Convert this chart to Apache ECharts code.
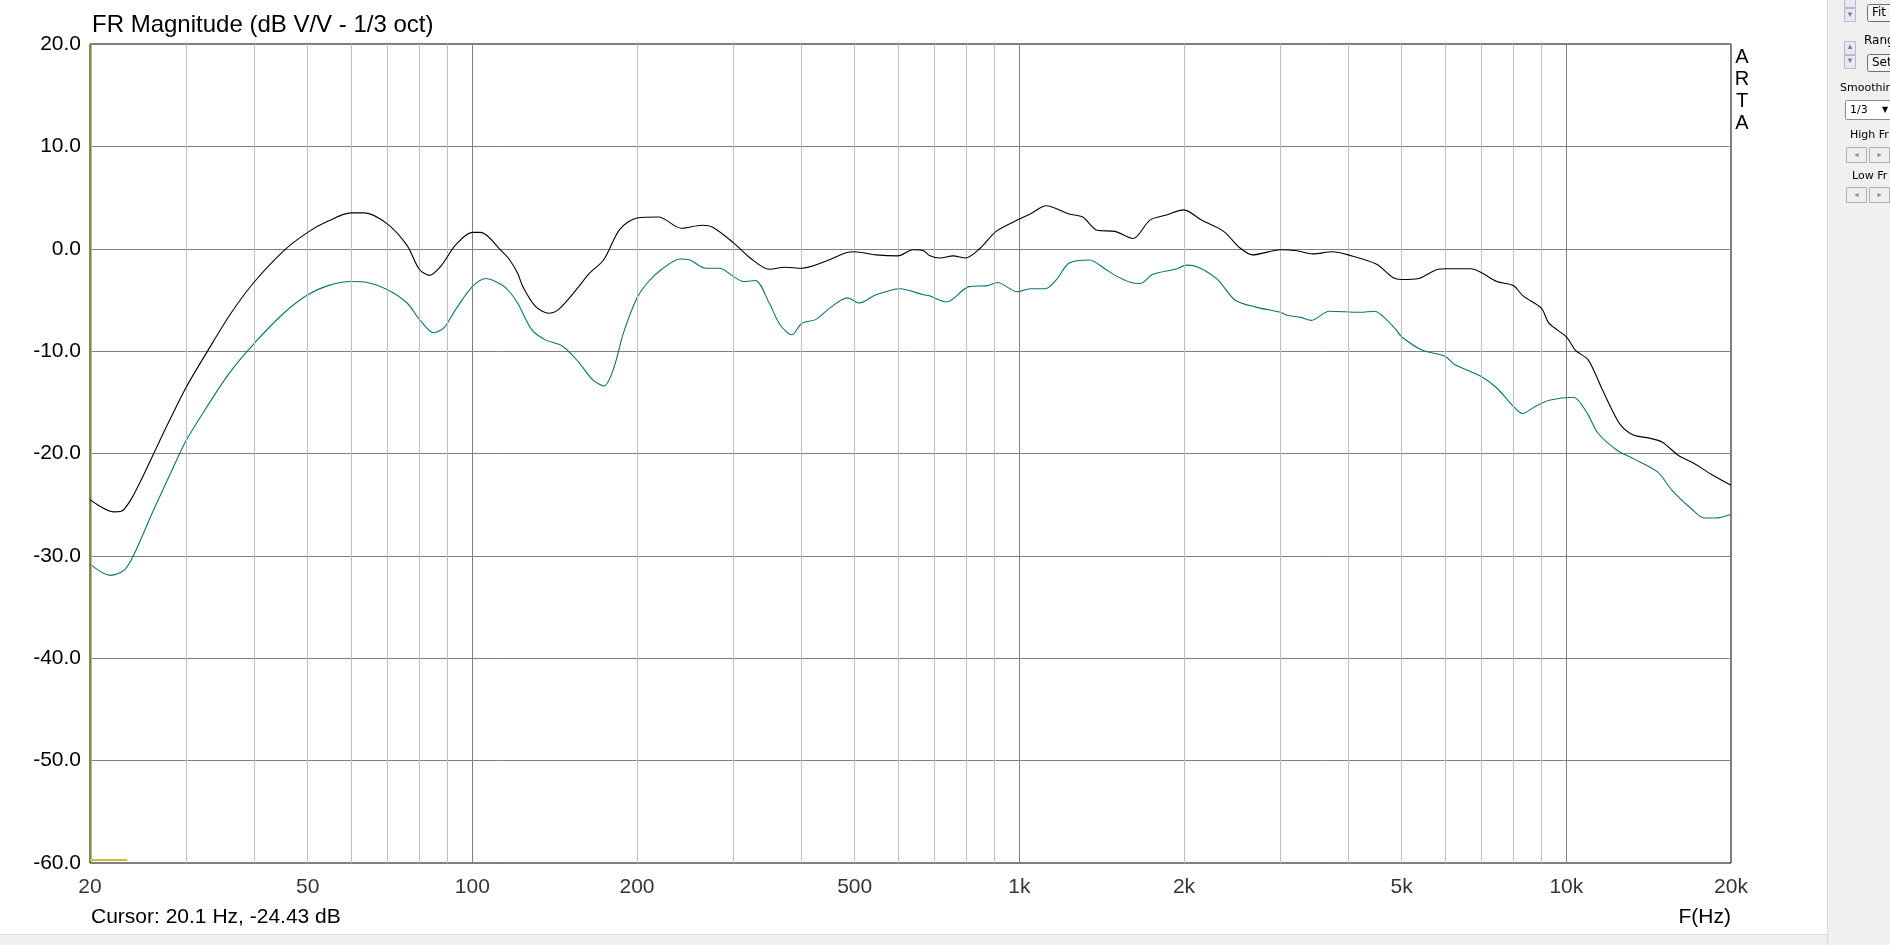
<!DOCTYPE html>
<html>
<head>
<meta charset="utf-8">
<script src="https://cdn.jsdelivr.net/npm/echarts@6/dist/echarts.min.js"></script>
<style>
html,body{margin:0;padding:0;background:#fff;}
#chart{width:1890px;height:945px;}
</style>
</head>
<body>
<div id="chart"></div>
<script>
// ---- data ----
const freqBlack = [20,22.1,22.8,23.7,24.8,26.1,27.7,30,32.8,36.2,40,45.2,50,54.5,60,63.5,70,76,80,83.5,87.6,93.3,100,103.6,113,116.9,121,123.7,130.3,137.7,144,156,163,174,186,200,219,241,263,275,300,322,349,373,400,444,482,500,547,600,639,668,685,715,757,797,850,907,1000,1047,1120,1233,1306,1389,1496,1613,1733,1858,1998,2153,2363,2529,2669,3000,3218,3441,3733,3992,4492,4816,5000,5372,5829,6000,6687,7000,7464,8000,8334,9000,9302,10000,10382,10962,11576,12058,12560,13263,14192,14986,16036,17160,18362,20000];
const dbBlack = [-24.5,-25.7,-25.65,-24.6,-22.6,-20.1,-17.2,-13.5,-10.0,-6.3,-3.2,-0.2,1.6,2.7,3.5,3.5,2.4,0.3,-2.0,-2.6,-1.7,0.4,1.6,1.6,-0.2,-1.05,-2.4,-3.7,-5.6,-6.3,-5.9,-3.8,-2.5,-1.05,1.9,3.0,3.1,2.0,2.3,2.1,0.6,-0.9,-2.0,-1.8,-1.9,-1.2,-0.4,-0.3,-0.6,-0.7,-0.1,-0.2,-0.65,-0.9,-0.7,-0.9,0.1,1.7,2.9,3.4,4.2,3.4,3.1,1.8,1.7,1.0,2.8,3.3,3.8,2.8,1.7,0.1,-0.6,-0.1,-0.2,-0.5,-0.3,-0.6,-1.5,-2.8,-3.0,-2.9,-2.0,-1.96,-1.96,-2.35,-3.2,-3.6,-4.6,-5.8,-7.3,-8.6,-9.9,-10.85,-13.5,-15.5,-17.2,-18.2,-18.5,-18.9,-20.2,-21.0,-22.0,-23.1];
const freqTeal = [20,21.8,23.1,24.1,26.1,29.0,30,32.4,35.9,40,45.2,50,54.5,60,64.3,70,76,80,85,88.8,93.3,100,106,113,116.9,121,128.4,136,146,156,166,174,181,189,200,210,222,240,250,267,283,300,313,329,349,365,384,400,425,450,485,510,547,605,668,685,736,809,876,912,992,1047,1116,1170,1233,1343,1438,1496,1600,1662,1755,1928,2027,2124,2302,2478,2705,3000,3087,3269,3418,3686,4198,4462,4622,4882,5000,5442,6000,6251,7000,7464,8000,8312,8775,9302,10297,10927,11419,12392,13263,14683,15605,16931,17872,18695,20000];
const dbTeal = [-30.8,-31.9,-31.4,-29.8,-25.6,-20.3,-18.7,-15.8,-12.2,-9.2,-6.3,-4.5,-3.6,-3.2,-3.3,-4.0,-5.3,-6.9,-8.2,-7.7,-5.9,-3.7,-2.9,-3.5,-4.2,-5.3,-7.9,-8.9,-9.5,-11.0,-12.8,-13.4,-11.8,-8.2,-4.8,-3.2,-2.0,-1.0,-1.1,-1.9,-1.9,-2.7,-3.2,-3.1,-5.3,-7.4,-8.4,-7.3,-6.9,-5.8,-4.8,-5.3,-4.5,-3.9,-4.5,-4.6,-5.2,-3.7,-3.6,-3.3,-4.2,-3.9,-3.9,-3.0,-1.4,-1.1,-2.0,-2.6,-3.3,-3.4,-2.5,-2.0,-1.6,-1.8,-3.0,-5.0,-5.7,-6.2,-6.5,-6.7,-7.0,-6.1,-6.2,-6.1,-6.6,-7.9,-8.6,-9.9,-10.5,-11.3,-12.5,-13.6,-15.4,-16.1,-15.4,-14.8,-14.5,-16.1,-18.0,-19.7,-20.5,-21.8,-23.6,-25.4,-26.3,-26.3,-25.95];
const gridMinorFreqs = [30,40,50,60,70,80,90,200,300,400,500,600,700,800,900,2000,3000,4000,5000,6000,7000,8000,9000];
const gridMajorFreqs = [100,1000,10000];
const xTickValues = [20,50,100,200,500,1000,2000,5000,10000,20000];
const xTickLabels = ['20','50','100','200','500','1k','2k','5k','10k','20k'];
const cursorFreq = 20.1;
const markerLevel = -59.65;
const markerEndFreq = 23.4;
const titleText = 'FR Magnitude (dB V/V - 1/3 oct)';
const cursorText = 'Cursor: 20.1 Hz, -24.43 dB';

// ---- chart ----
const FONT = '"Liberation Sans", Arial, sans-serif';
const UI = '"DejaVu Sans", Tahoma, sans-serif';
const zip = (a, b) => a.map((v, i) => [v, b[i]]);

const gridLines = [];
gridMinorFreqs.forEach(f => gridLines.push({xAxis: f, lineStyle: {color: '#c0c0c0', width: 1, type: 'solid'}}));
gridMajorFreqs.forEach(f => gridLines.push({xAxis: f, lineStyle: {color: '#808080', width: 1, type: 'solid'}}));

const chart = echarts.init(document.getElementById('chart'), null, {renderer: 'canvas'});

const spin = (y) => ({type:'rect', shape:{x:1844.5,y:y+0.5,width:11,height:13}, style:{fill:'#e8e8f0',stroke:'#b8b8c8'}});
const glyph = (x, y, t, size, col) => ({type:'text', style:{x:x,y:y,text:t,fill:col||'#7a7a9a',font:(size||9)+'px '+UI,align:'center',verticalAlign:'middle'}});
const label = (x, y, t, size) => ({type:'text', style:{x:x,y:y,text:t,fill:'#000',font:(size||12)+'px '+UI,verticalAlign:'middle'}});

// right-side UI panel (window chrome)
const panel = [
  {type:'rect', shape:{x:0,y:935,width:1827,height:10}, style:{fill:'#f0f0f0'}},
  {type:'line', shape:{x1:0,y1:934.5,x2:1827,y2:934.5}, style:{stroke:'#dadada',lineWidth:1}},
  {type:'rect', shape:{x:1827,y:0,width:63,height:945}, style:{fill:'#f0f0f0'}},
  {type:'line', shape:{x1:1827.5,y1:0,x2:1827.5,y2:945}, style:{stroke:'#dadada',lineWidth:1}},
  // spinners
  spin(-6), spin(8), spin(41), spin(55),
  glyph(1850, 15, '▾'), glyph(1850, 47, '▴'), glyph(1850, 61, '▾'),
  // buttons
  {type:'rect', shape:{x:1867.5,y:4.5,width:30,height:17,r:2}, style:{fill:'#f4f4f4',stroke:'#707070'}},
  label(1872, 13, 'Fit'),
  label(1864, 41, 'Rang'),
  {type:'rect', shape:{x:1867.5,y:54.5,width:30,height:17,r:2}, style:{fill:'#f4f4f4',stroke:'#707070'}},
  label(1872, 63, 'Set'),
  label(1840, 88, 'Smoothing', 11),
  {type:'rect', shape:{x:1845.5,y:100.5,width:50,height:19,r:1}, style:{fill:'#ffffff',stroke:'#8a8a8a'}},
  label(1850, 110, '1/3', 11),
  glyph(1885, 110, '▼', 8, '#000'),
  label(1850, 135, 'High Fr', 11),
  {type:'rect', shape:{x:1846.5,y:147.5,width:20,height:15}, style:{fill:'#eeeeee',stroke:'#b0b0b0'}},
  {type:'rect', shape:{x:1869.5,y:147.5,width:20,height:15}, style:{fill:'#eeeeee',stroke:'#b0b0b0'}},
  glyph(1856.5, 155, '◂', 8, '#888'), glyph(1879.5, 155, '▸', 8, '#888'),
  label(1852, 176, 'Low Fr', 11),
  {type:'rect', shape:{x:1846.5,y:187.5,width:20,height:15}, style:{fill:'#eeeeee',stroke:'#b0b0b0'}},
  {type:'rect', shape:{x:1869.5,y:187.5,width:20,height:15}, style:{fill:'#eeeeee',stroke:'#b0b0b0'}},
  glyph(1856.5, 195, '◂', 8, '#888'), glyph(1879.5, 195, '▸', 8, '#888'),
  // chart texts
  {type:'text', style:{x:1742,y:46,text:'A\nR\nT\nA',fill:'#000',font:'20px '+FONT,align:'center',verticalAlign:'top',lineHeight:22}},
  {type:'text', style:{x:91,y:917,text:cursorText,fill:'#000',font:'21px '+FONT,verticalAlign:'middle'}},
  {type:'text', style:{x:1731,y:917,text:'F(Hz)',fill:'#000',font:'21px '+FONT,align:'right',verticalAlign:'middle'}}
];

chart.setOption({
  animation: false,
  backgroundColor: '#ffffff',
  title: {
    text: titleText, left: 92, top: 13, padding: 0,
    textStyle: {fontFamily: FONT, fontSize: 24, fontWeight: 'normal', color: '#000'}
  },
  grid: {left: 90, top: 44, width: 1641, height: 819, show: true, borderColor: '#000', borderWidth: 1, backgroundColor: 'transparent'},
  xAxis: {
    type: 'log', logBase: 10, min: 20, max: 20000,
    axisLine: {show: false}, axisTick: {show: false}, axisLabel: {show: false}, splitLine: {show: false}, minorSplitLine: {show: false}
  },
  yAxis: {
    type: 'value', min: -60, max: 20, interval: 10,
    axisLine: {show: false}, axisTick: {show: false},
    axisLabel: {margin: 9, fontFamily: FONT, fontSize: 21, color: '#000', formatter: v => v.toFixed(1)},
    splitLine: {show: true, lineStyle: {color: '#808080', width: 1}}
  },
  graphic: panel,
  series: [
    {
      name: 'grid', type: 'line', data: [], silent: true, z: 1,
      markLine: {silent: true, symbol: ['none','none'], label: {show: false}, animation: false, data: gridLines}
    },
    {
      name: 'xlabels', type: 'scatter', silent: true, clip: false, z: 1,
      symbolSize: 0.001, itemStyle: {color: 'transparent'},
      data: xTickValues.map((f, i) => ({value: [f, -60], label: {formatter: xTickLabels[i]}})),
      label: {show: true, position: 'bottom', distance: 14, fontFamily: FONT, fontSize: 21, color: '#000'}
    },
    {
      name: 'cursor', type: 'line', data: [], silent: true, z: 3,
      markLine: {silent: true, symbol: ['none','none'], label: {show: false}, animation: false,
        data: [
          {xAxis: cursorFreq, lineStyle: {color: '#c8c040', width: 1, type: 'solid'}},
          [{coord: [20, markerLevel], lineStyle: {color: '#c8c040', width: 2, type: 'solid'}}, {coord: [markerEndFreq, markerLevel]}]
        ]}
    },
    {
      name: 'Trace 2', type: 'line', data: zip(freqTeal, dbTeal), showSymbol: false, smooth: 0.3, z: 4,
      lineStyle: {color: '#0a7272', width: 1.1}
    },
    {
      name: 'Trace 1', type: 'line', data: zip(freqBlack, dbBlack), showSymbol: false, smooth: 0.3, z: 5,
      lineStyle: {color: '#000000', width: 1.1}
    }
  ]
});
</script>
</body>
</html>
